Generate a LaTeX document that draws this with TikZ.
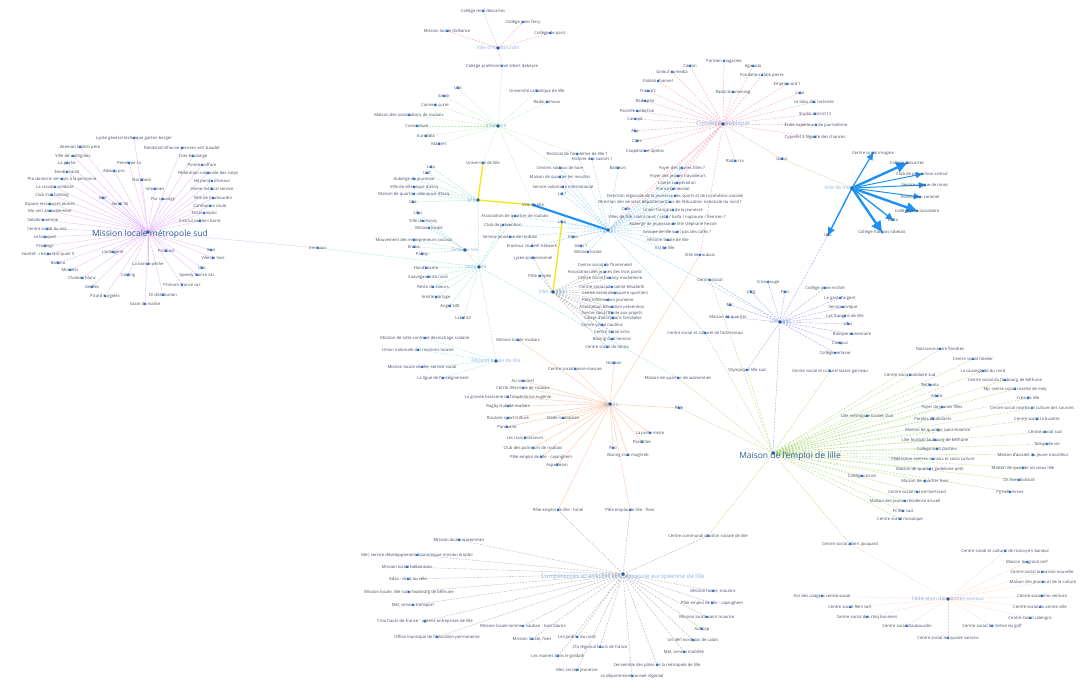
\documentclass[tikz,border=0pt]{standalone}
\usepackage{fontspec}
\setmainfont{Open Sans}
\usetikzlibrary{arrows.meta}
\pgfdeclarelayer{bgfill}
\pgfdeclarelayer{bg}
\pgfsetlayers{bgfill,bg,main}
\definecolor{cTxt}{RGB}{70,80,100}
\definecolor{cDot}{RGB}{40,110,215}
\definecolor{cML}{RGB}{230,190,245}
\definecolor{cRed}{RGB}{245,160,180}
\definecolor{cGrn}{RGB}{185,235,185}
\definecolor{cTeal}{RGB}{155,222,212}
\definecolor{cLB}{RGB}{145,207,245}
\definecolor{cBlue}{RGB}{30,145,245}
\definecolor{cYel}{RGB}{240,232,20}
\definecolor{cOr}{RGB}{252,195,160}
\definecolor{cGn2}{RGB}{180,218,128}
\definecolor{cPur}{RGB}{160,150,245}
\definecolor{cGry}{RGB}{172,172,178}
\definecolor{cOr2}{RGB}{252,208,185}
\definecolor{cHubD}{RGB}{45,95,150}
\definecolor{cHubL}{RGB}{140,180,225}
\newcommand\lf[4]{\coordinate (#1) at (#2,#3);\node[lbl] (#1t) at (#1) {#4};\fill[cDot] (#1) circle (1.3);}
\newcommand\hb[7]{\coordinate (#1) at (#2,#3);\node[#5] (#1t) at (#6,#7) {#4};\fill[cHubD] (#1) circle (1.8);}
\tikzset{
 lbl/.style={inner sep=0pt,text=cTxt,font=\fontsize{4.2}{4.6}\selectfont},
 hubS/.style={inner sep=0pt,text=cHubL,font=\fontsize{5}{6}\selectfont},
 hubM/.style={inner sep=0pt,text=cHubL,font=\fontsize{6}{7}\selectfont},
 hubB/.style={inner sep=0pt,text=cHubD,font=\fontsize{8.5}{10}\selectfont},
 ed/.style={line width=0.35pt},
 dsh/.style={dash pattern=on 2pt off 1.2pt},
 eML/.style={ed,draw=cML},
 eRed/.style={ed,draw=cRed,dsh},
 eGrn/.style={ed,draw=cGrn,dsh},
 eTeal/.style={ed,draw=cTeal,dsh},
 eLB/.style={ed,draw=cLB,dsh},
 eOr/.style={ed,draw=cOr},
 eGn2/.style={ed,draw=cGn2,dsh},
 ePur/.style={ed,draw=cPur,dsh},
 eGry/.style={ed,draw=cGry,dsh},
 eOr2/.style={ed,draw=cOr2,dsh},
 eYel/.style={line width=1.3pt,draw=cYel},
 eBlu/.style={line width=2.2pt,draw=cBlue},
 arr/.style={draw=cBlue,line width=#1,-{Triangle[length=3.2*#1+3pt,width=3*#1+3pt]}},
}
\begin{document}
\begin{tikzpicture}[x=1pt,y=-1pt]
\begin{pgfonlayer}{bgfill}
\fill[white] (0,0) rectangle (1083,681);
\end{pgfonlayer}
\useasboundingbox (0,0) rectangle (1083,681);
% ---------- hubs
\hb{ML}{148}{232}{Mission locale métropole sud}{hubB}{150}{234}
\hb{HB}{498}{48}{Ville d'Haubourdin}{hubS}{498}{48}
\hb{IF}{498}{126}{Interface}{hubS}{496}{126}
\hb{CP}{723}{124}{Condition publique}{hubM}{723}{124}
\hb{VM}{852}{188}{Ville de mons}{hubS}{840}{188}
\hb{AR}{478}{200}{Arts}{hubS}{472}{201}
\hb{GS}{465}{250}{Groupe sos}{hubS}{465}{250}
\hb{UC}{479}{267}{Unis-Cité}{hubS}{476}{267}
\hb{MLL}{496}{361}{Mission locale de lille}{hubS}{496}{361}
\hb{AF}{608}{230}{Afev}{hubS}{608}{232}
\hb{VH}{553}{292}{Ville de hem}{hubS}{553}{292}
\hb{AP}{610}{404}{Apels}{hubM}{611}{405}
\hb{PU}{780}{322}{Unis-cité}{hubS}{780}{322}
\hb{ME}{773}{453}{Maison de l'emploi de lille}{hubB}{790}{456}
\hb{CO}{623}{574}{Compétences et emplois en métropole européenne de lille}{hubM}{623}{577}
\hb{FC}{948}{599}{Fédération des centres sociaux}{hubS}{948}{599}
% ---------- Mission locale sud
\lf{ml1}{134}{138}{Lycée général technique gaston berger}
\lf{ml2}{80}{147}{Zeeman tablets pere}
\lf{ml3}{182}{148}{Randstad inhouse services vert baudet}
\lf{ml4}{73}{156}{Ville de wattignies}
\lf{ml5}{193}{156}{Cote boulange}
\lf{ml6}{67}{163}{La poche}
\lf{ml7}{129}{163}{Penelope sa}
\lf{ml8}{202}{165}{Pointe coiffure}
\lf{ml9}{67}{172}{Enedis hauts}
\lf{ml10}{114}{171}{Adecco pro}
\lf{ml11}{208}{173}{Fédération nationale des creps}
\lf{ml12}{62}{179}{Pro domicile services à la personne}
\lf{ml13}{142}{180}{Nordbeck}
\lf{ml14}{212}{181}{Sel pendu d'amour}
\lf{ml15}{55}{187}{La cravate solidaire}
\lf{ml16}{155}{189}{Interimes}
\lf{ml17}{212}{189}{Home médical service}
\lf{ml18}{52}{195}{Club mat holding}
\lf{ml19}{103}{198}{Mer}
\lf{ml20}{163}{199}{Pur sauvage}
\lf{ml21}{213}{198}{Ville de haubourdin}
\lf{ml22}{50}{204}{Espace ressources jeunes}
\lf{ml23}{120}{204}{Sercit 06}
\lf{ml24}{210}{206}{Cambonne route}
\lf{ml25}{50}{211}{Mo vert ameublement}
\lf{ml26}{204}{213}{Tissel emploi}
\lf{ml27}{43}{220}{Saladin nomme}
\lf{ml28}{200}{221}{Institut métiers barre}
\lf{ml29}{47}{229}{Centre social du nez}
\lf{ml30}{45}{237}{Le bouquet}
\lf{ml31}{45}{246}{Prodings}
\lf{ml32}{48}{254}{Société - restaurant quint 5}
\lf{ml33}{58}{263}{Bottina}
\lf{ml34}{70}{270}{Montess}
\lf{ml35}{82}{278}{Chateau blanc}
\lf{ml36}{92}{287}{Gerflex}
\lf{ml37}{105}{296}{Picard surgelés}
\lf{ml38}{113}{252}{L'orangerie}
\lf{ml39}{166}{251}{Profood}
\lf{ml40}{148}{264}{La bonne pêche}
\lf{ml41}{128}{275}{Cabling}
\lf{ml42}{145}{304}{Grain de malice}
\lf{ml43}{163}{295}{Di distribution}
\lf{ml44}{182}{285}{Primaris france sas}
\lf{ml45}{197}{275}{Speedy france sas}
\lf{ml46}{202}{268}{Ulis}
\lf{ml47}{213}{258}{Ville de loos}
\lf{ml48}{211}{250}{Ikea}
\lf{emm}{318}{248}{Emmaus}
% ---------- Haubourdin
\lf{hb1}{483}{11}{Collège rené descartes}
\lf{hb2}{523}{22}{Collège jules ferry}
\lf{hb3}{550}{33}{Collège de paris}
\lf{hb4}{447}{31}{Mission locale d'alliance}
\lf{hb5}{502}{66}{Collège professionnel albert debeyre}
% ---------- Interface
\lf{if1}{458}{88}{Ulis}
\lf{if2}{444}{96}{Savoir}
\lf{if3}{435}{105}{Canne à sucre}
\lf{if4}{409}{115}{Maison des associations de roubaix}
\lf{if5}{417}{126}{Consortium}
\lf{if6}{426}{136}{Eurofidia}
\lf{if7}{439}{144}{Matters}
\lf{if8}{537}{91}{Université catholique de lille}
\lf{if9}{547}{102}{Radio lemoux}
% ---------- Condition publique
\lf{cp1}{724}{61}{Parisien magazine}
\lf{cp2}{690}{66}{Carton}
\lf{cp3}{753}{66}{Agorada}
\lf{cp4}{672}{72}{Golouf eumedia}
\lf{cp5}{762}{75}{Fondation abbé pierre}
\lf{cp6}{658}{81}{Fablab channel}
\lf{cp7}{787}{84}{Emploi nord ?}
\lf{cp8}{648}{91}{France2}
\lf{cp9}{733}{92}{Radio boomerang}
\lf{cp10}{800}{93}{Lmo}
\lf{cp11}{645}{101}{Radiopilo}
\lf{cp12}{814}{102}{Le labo des histoires}
\lf{cp13}{637}{111}{Parcelle collective}
\lf{cp14}{815}{114}{Studio district13}
\lf{cp15}{635}{119}{Canopé}
\lf{cp16}{816}{125}{École supérieure de journalisme}
\lf{cp17}{635}{131}{Alip}
\lf{cp18}{815}{137}{Cyprefet à l'égalité des chances}
\lf{cp19}{637}{141}{Cités}
\lf{cp20}{645}{151}{Coopérative optéos}
\lf{cp21}{735}{161}{Radio rcv}
\lf{cp22}{782}{159}{Gafos}
% ---------- Ville de mons
\lf{vm1}{873}{153}{Centre social imagine}
\lf{vm2}{907}{163}{Collège descartes}
\lf{vm3}{922}{174}{Club de prévention azimut}
\lf{vm4}{925}{185}{Service civique de mons}
\lf{vm5}{920}{197}{Association caramel}
\lf{vm6}{917}{211}{Collège jean lacordaire}
\lf{vm7}{893}{220}{Dello}
\lf{vm8}{882}{232}{Collège françois rabelais}
\lf{vm9}{828}{235}{Ulis}
% ---------- Arts / Groupe sos / Unis-Cite
\lf{ar0}{483}{163}{Université de lille}
\lf{vl}{533}{205}{Ville de lille}
\lf{ar1}{431}{167}{Lalo}
\lf{ar2}{427}{173}{Uslf}
\lf{ar3}{414}{179}{Auberge de jeunesse}
\lf{ar4}{414}{187}{Ville de villeneuve d'ascq}
\lf{ar5}{414}{194}{Maison de quartier villeneuve d'ascq}
\lf{ar6}{413}{202}{Ulis}
\lf{gs1}{418}{213}{Lilas}
\lf{gs2}{423}{221}{Ville de marcq}
\lf{gs3}{429}{228}{Mission locale}
\lf{gs4}{414}{240}{Mouvement des entrepreneurs sociaux}
\lf{gs5}{414}{247}{Enabs}
\lf{gs6}{422}{254}{Pabby}
\lf{uc1}{426}{268}{Hand'ailante}
\lf{uc2}{428}{277}{Sauvegarde du nord}
\lf{uc3}{433}{287}{Resto du coeurs}
\lf{uc4}{436}{297}{Amitié partage}
\lf{uc5}{450}{306}{Angel 340}
\lf{uc6}{463}{318}{Lab 142}
\lf{mll1}{425}{338}{Mission de lutte contre le décrochage scolaire}
\lf{mll2}{418}{350}{Union nationale des missions locales}
\lf{mll3}{422}{367}{Mission locale de lille, service social}
\lf{mll4}{443}{378}{La ligue de l'enseignement}
\lf{ce1}{515}{216}{Association de quartier de roubaix}
\lf{ce2}{503}{225}{Club de prévention}
\lf{ce3}{510}{237}{Service jeunesse de roubaix}
\lf{ce4}{532}{246}{Erasmus student network}
\lf{lil}{562}{222}{Lille}
% ---------- Afev
\lf{af1}{577}{154}{Rectorat de l'académie de lille ?}
\lf{af2}{592}{159}{Histoire des savoirs ?}
\lf{af3}{618}{168}{Bailleurs}
\lf{af4}{560}{168}{Centres sociaux de ham}
\lf{af5}{560}{177}{Maison de quartier les moulins}
\lf{af6}{563}{187}{Service volontaire international}
\lf{af7}{562}{194}{Lrt ?}
\lf{af8}{675}{196}{Direction régionale de la jeunesse des sports et de la cohésion sociale}
\lf{af9}{670}{202}{Direction des services départementaux de l'éducation nationale du nord ?}
\lf{af10}{626}{209}{Cnfe}
\lf{af11}{673}{210}{Union française de la jeunesse}
\lf{af12}{667}{217}{Villes de lille / saint-louis / sétif / haifa / naplouse / tlemcen ?}
\lf{af13}{673}{224}{Auberge de jeunesse de lille stéphane hessel}
\lf{af14}{677}{232}{Groupe de lille sont pas des cafés ?}
\lf{af15}{668}{240}{Mission locale de lille}
\lf{af16}{665}{248}{Esj de lille}
\lf{af17}{573}{237}{Kiblo}
\lf{af18}{581}{246}{Gens ?}
\lf{af19}{588}{252}{Mission locale}
\lf{af20}{682}{168}{Foyer des jeunes filles ?}
\lf{af21}{678}{176}{Foyer des jeunes travailleurs}
\lf{af22}{677}{183}{Lianes coopération}
\lf{af23}{673}{189}{France bénévolat}
% ---------- Ville de hem
\lf{vh1}{605}{265}{Centre social de l'hommelet}
\lf{vh2}{605}{272}{Association des jeunes des trois ponts}
\lf{vh3}{610}{278}{Centre social fresnoy mackellerie}
\lf{vh4}{612}{287}{Centre social pile sainte élisabeth}
\lf{vh5}{615}{293}{Centre social des quatre quartiers}
\lf{vh6}{608}{300}{Pôle information jeunesse}
\lf{vh7}{612}{307}{Association éducation prévention}
\lf{vh8}{612}{313}{Centre social d'aide aux projets}
\lf{vh9}{613}{318}{Caisse d'allocations familiales}
\lf{vh10}{602}{325}{Centre social nautilus}
\lf{vh11}{612}{332}{Centre social echo}
\lf{vh12}{612}{339}{Boxing club hemois}
\lf{vh13}{607}{347}{Centre social de l'alma}
\lf{vh14}{540}{276}{Pôle emploi}
\lf{vh15}{533}{258}{Lycée professionnel}
% ---------- Apels
\lf{ap1}{523}{381}{Au sommet}
\lf{ap2}{523}{388}{Cercle d'escrime de roubaix}
\lf{ap3}{508}{397}{La grande brasserie de l'impératrice eugénie}
\lf{ap4}{508}{406}{Rugby club de roubaix}
\lf{ap5}{508}{418}{Roubaix sport culture}
\lf{ap6}{507}{427}{Pandurite}
\lf{ap7}{525}{438}{Les trois brasseurs}
\lf{ap8}{533}{448}{Club des patineurs de roubaix}
\lf{ap9}{575}{369}{Centre social basse-masure}
\lf{ap10}{614}{363}{Horizon}
\lf{ap11}{563}{418}{Stade roubaisien}
\lf{ap12}{650}{433}{La porte mixte}
\lf{ap13}{642}{442}{Pass'Elles}
\lf{ap14}{613}{448}{Pcsl}
\lf{ap15}{628}{455}{Boxing club maghreb}
\lf{ap16}{541}{457}{Pôle emploi de lille - capinghem}
\lf{ap17}{557}{465}{Aspel'team}
\lf{ap18}{518}{340}{Mission locale roubaix}
\lf{ap19}{700}{255}{Ville de roubaix}
\lf{ap20}{679}{408}{Pôle}
\lf{pe1}{558}{510}{Pôle emploi de lille - funel}
\lf{pe2}{630}{510}{Pôle emploi de lille - fives}
% ---------- Unis-cite (purple)
\lf{pu1}{768}{282}{Croix rouge}
\lf{pu2}{751}{292}{Ufcg}
\lf{pu3}{785}{292}{Fikis}
\lf{pu4}{730}{305}{Mlc}
\lf{pu5}{728}{317}{Maison de quartier}
\lf{pu6}{825}{288}{Collège anne michel}
\lf{pu7}{840}{298}{Le gant d'argent}
\lf{pu8}{843}{307}{Service civique}
\lf{pu9}{845}{316}{Les frangins de lille}
\lf{pu10}{848}{324}{Ufas}
\lf{pu11}{852}{334}{Banque alimentaire}
\lf{pu12}{840}{343}{Campus}
\lf{pu13}{835}{353}{Collège verlaine}
\lf{me34}{747}{370}{Olympique lille sud}
\lf{me37}{710}{280}{Centre social}
% ---------- Maison de l'emploi
\lf{me1}{940}{349}{Naissance entre flandres}
\lf{me2}{973}{359}{Centre social l'atelier}
\lf{me3}{910}{375}{Centre social solidaire sud}
\lf{me4}{983}{371}{La sauvegarde du nord}
\lf{me5}{1005}{380}{Centre social du faubourg de béthune}
\lf{me6}{930}{385}{Bethania}
\lf{me7}{1015}{389}{Mjc centre social rosette de mey}
\lf{me8}{937}{396}{Adelis}
\lf{me9}{1028}{398}{Crea de lille}
\lf{me10}{942}{407}{Foyer de jeunes filles}
\lf{me11}{1032}{408}{Centre social rosette et culture des sources}
\lf{me12}{867}{416}{Lille métropole basket club}
\lf{me13}{933}{419}{Paroles d'habitants}
\lf{me14}{1037}{419}{Centre social la busette}
\lf{me15}{938}{430}{Maison de quartier saint-maurice}
\lf{me16}{1045}{432}{Centre social sud}
\lf{me17}{935}{440}{Lille football faubourg de béthune}
\lf{me18}{1047}{444}{Temps de vie}
\lf{me19}{937}{449}{Collège louis pasteur}
\lf{me20}{1033}{455}{Maison d'accueil du jeune travailleur}
\lf{me21}{933}{459}{Fédération centres sociaux et socio culture}
\lf{me22}{1023}{468}{Maison de quartier du vieux lille}
\lf{me23}{930}{469}{Maison de quartier godeleine petit}
\lf{me24}{862}{476}{Collège carnot}
\lf{me25}{925}{481}{Maison de quartier fives}
\lf{me26}{1019}{480}{Os fives football}
\lf{me27}{917}{492}{Centre social marcel bertrand}
\lf{me28}{1010}{492}{Pjj hellemmes}
\lf{me29}{905}{501}{Maison des jeunes résidence arcueil}
\lf{me30}{903}{511}{Fc lille sud}
\lf{me31}{900}{519}{Centre social mosaïque}
\lf{me32}{850}{544}{Centre social albert jacquard}
\lf{me33}{830}{371}{Centre social et culturel lazare garneau}
\lf{me35}{705}{333}{Centre social et culturel de l'arbrisseau}
\lf{me36}{678}{378}{Maison de quartier de wazemmes}
\lf{me38}{708}{536}{Centre communal d'action sociale de lille}
% ---------- Competences
\lf{co3}{459}{540}{Mission locale wazemmes}
\lf{co4}{417}{555}{Mel, service développement économique mission emploi}
\lf{co5}{407}{567}{Mission locale hellemmes}
\lf{co6}{408}{579}{Adav - droit au vélo}
\lf{co7}{409}{592}{Mission locale, lille sud - faubourg de béthune}
\lf{co8}{413}{605}{Mel, service transport}
\lf{co9}{425}{621}{Cma hauts-de-france - agence entreprises de lille}
\lf{co10}{437}{637}{Office municipal de l'éducation permanente}
\lf{co11}{523}{626}{Mission locale lomme - vauban - bois blancs}
\lf{co12}{532}{639}{Mission locale, fives}
\lf{co13}{558}{656}{Les mairies dans le goldath}
\lf{co14}{577}{670}{Mel, service jeunesse}
\lf{co15}{577}{637}{Les jardins du nord}
\lf{co16}{600}{647}{Cfa régional hauts de france}
\lf{co17}{632}{676}{Le département conseil régional}
\lf{co18}{657}{665}{L'ensemble des pôles de la métropole de lille}
\lf{co19}{684}{652}{Mel, service mobilité}
\lf{co20}{693}{640}{Un défi nord-pas de calais}
\lf{co21}{702}{629}{Auticap}
\lf{co22}{707}{617}{Mission locale saint maurice}
\lf{co23}{712}{603}{Pôle emploi de lille - capinghem}
\lf{co24}{713}{591}{Mission locale, moulins}
% ---------- Federation
\lf{fc1}{1005}{551}{Centre social et culturel de marcq-en-barœul}
\lf{fc2}{1027}{562}{Maison du grand cerf}
\lf{fc3}{1042}{572}{Centre social la maison nouvelle}
\lf{fc4}{1043}{582}{Maison des jeunes et de la culture}
\lf{fc5}{1042}{596}{Centre social lino ventura}
\lf{fc6}{1040}{607}{Centre social du centre ville}
\lf{fc7}{1030}{618}{Centre social salengro}
\lf{fc8}{992}{626}{Centre social de l'arbre du golf}
\lf{fc9}{948}{638}{Centre social les quatre saisons}
\lf{fc10}{907}{626}{Centre social haubourdin}
\lf{fc11}{867}{617}{Centre social des cinq bonniers}
\lf{fc12}{850}{607}{Centre social flers sart}
\lf{fc13}{822}{596}{Ass des usagers centre social}
% ---------- connectors
\begin{pgfonlayer}{bg}
\foreach \i in {1,...,48} \draw[eML] (ML) -- (ml\i);
\draw[eML] (ML) -- (emm);
\draw[eTeal] (emm) -- (UC);
\foreach \i in {1,...,5} \draw[eRed] (HB) -- (hb\i);
\draw[eGrn] (hb5) -- (IF);
\foreach \i in {1,...,9} \draw[eGrn] (IF) -- (if\i);
\foreach \n in {ar0,vl,af4,af1} \draw[eGrn] (IF) -- (\n);
\foreach \i in {1,...,22} \draw[eRed] (CP) -- (cp\i);
\foreach \n in {af20,af21,af22,af10,ap19,AF} \draw[eRed] (CP) -- (\n);
\draw[eGn2] (cp22) -- (VM);
\draw[arr=1.2] (VM) -- (vm1);
\draw[arr=2.4] (VM) -- (vm2);
\draw[arr=1.0] (VM) -- (vm3);
\draw[arr=1.0] (VM) -- (vm4);
\draw[arr=1.0] (VM) -- (vm5);
\draw[arr=2.4] (VM) -- (vm6);
\draw[arr=1.3] (VM) -- (vm7);
\draw[arr=2.4] (VM) -- (vm8);
\draw[arr=1.4] (VM) -- (vm9);
\draw[ePur] (vm9) -- (PU);
\foreach \i in {1,...,6} \draw[eTeal] (AR) -- (ar\i);
\draw[eYel] (AR) -- (ar0);
\draw[eYel] (AR) -- (vl);
\draw[eBlu] (vl) -- (AF);
\draw[eYel] (VH) -- (lil);
\foreach \i in {1,...,6} \draw[eTeal] (GS) -- (gs\i);
\foreach \i in {1,...,6} \draw[eTeal] (UC) -- (uc\i);
\foreach \n in {GS,AR,MLL,me36,ce1,ce2} \draw[eTeal] (UC) -- (\n);
\foreach \i in {1,...,4} \draw[eTeal] (MLL) -- (mll\i);
\foreach \i in {1,...,23} \draw[eLB] (AF) -- (af\i);
\foreach \n in {ce1,ce2,ce3,ce4,lil,me35,PU} \draw[eLB] (AF) -- (\n);
\foreach \i in {1,...,15} \draw[eGry] (VH) -- (vh\i);
\foreach \i in {1,...,20} \draw[eOr] (AP) -- (ap\i);
\draw[eOr] (AP) -- (pe1); \draw[eOr] (AP) -- (pe2);
\foreach \i in {1,...,13} \draw[ePur] (PU) -- (pu\i);
\foreach \n in {me34,me37,ME} \draw[ePur] (PU) -- (\n);
\foreach \i in {1,...,38} {\ifnum\i=34\else\ifnum\i=37\else\draw[eGn2] (ME) -- (me\i);\fi\fi}
\draw[eGn2] (ME) -- (me34); \draw[eGn2] (ME) -- (ap20);
\draw[eGn2] (ME) -- (me37);
\foreach \i in {3,...,24} \draw[eGry] (CO) -- (co\i);
\foreach \n in {pe1,pe2,me38} \draw[eGry] (CO) -- (\n);
\foreach \i in {1,...,13} \draw[eOr2] (FC) -- (fc\i);
\draw[eOr2] (FC) -- (me32);
\end{pgfonlayer}
\end{tikzpicture}
\end{document}
